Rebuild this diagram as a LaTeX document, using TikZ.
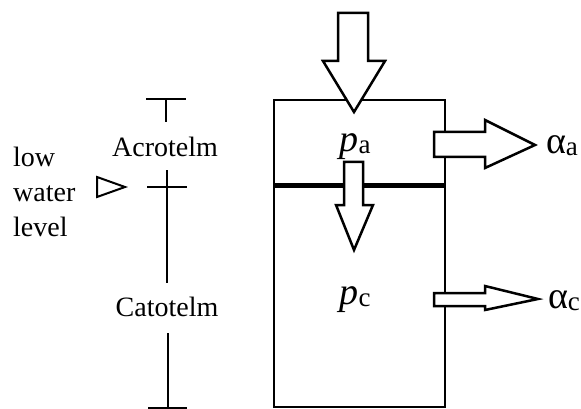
\documentclass[tikz,border=0pt]{standalone}
\usepackage{fontspec}
\setmainfont{Liberation Serif}
\newcommand{\subl}[1]{{\fontsize{27}{30}\selectfont\raisebox{-2pt}{#1}}}
\begin{document}
\begin{tikzpicture}[x=1pt, y=-1pt,
  wall/.style={black, line width=2.5pt},
  layer/.style={black, line width=5pt},
  flux/.style={black, line width=2.5pt, fill=white, line join=miter},
  depth/.style={black, line width=2.5pt},
  lbl/.style={font=\fontsize{28}{35}\selectfont, inner sep=0pt},
  sym/.style={font=\fontsize{38}{40}\selectfont, inner sep=0pt}]
\useasboundingbox (0,0) rectangle (581,409);
% peat column: acrotelm on top of catotelm
\draw[wall] (274,100) rectangle (445,407);
\draw[layer] (274,185) -- (445,185);
% precipitation coming in at the top
\draw[flux] (338,13) -- (368,13) -- (368,61) -- (385,61) -- (354,112)
  -- (323,61) -- (338,61) -- cycle;
% seepage from acrotelm into catotelm
\draw[flux] (344,162) -- (363,162) -- (363,205) -- (373,205) -- (354,250)
  -- (336,205) -- (344,205) -- cycle;
% lateral outflows
\draw[flux] (434,132) -- (485,132) -- (485,120) -- (535,145) -- (485,168)
  -- (485,157) -- (434,157) -- cycle;
\draw[flux] (434,293) -- (485,293) -- (485,286) -- (538,299) -- (485,310)
  -- (485,306) -- (434,306) -- cycle;
\node[sym] (pa) at (355,147) {\textit{p}\subl{a}};
\node[sym] (pc) at (355,300) {\textit{p}\subl{c}};
\node[sym] (aa) at (562,146) {α\subl{a}};
\node[sym] (ac) at (564,301) {α\subl{c}};
% depth scale on the left
\node[lbl] (acro) at (165,147) {Acrotelm};
\node[lbl] (cato) at (167,307) {Catotelm};
\coordinate (surf) at (166,99);
\coordinate (wl) at (167,187);
\draw[depth] (146,99) -- (186,99);
\draw[depth] (surf) -- (166,122);
\draw[depth] (147,187) -- (187,187);
\draw[depth] (167,170) -- (167,283);
\draw[depth] (168,333) -- (168,409);
\draw[depth] (148,408) -- (187,408);
% water table marker
\node[lbl, anchor=west, align=left] (low) at (13,192) {low\\water\\level};
\draw[black, line width=2pt, line join=miter] (97,177) -- (125,187) -- (97,197) -- cycle;
\end{tikzpicture}
\end{document}
